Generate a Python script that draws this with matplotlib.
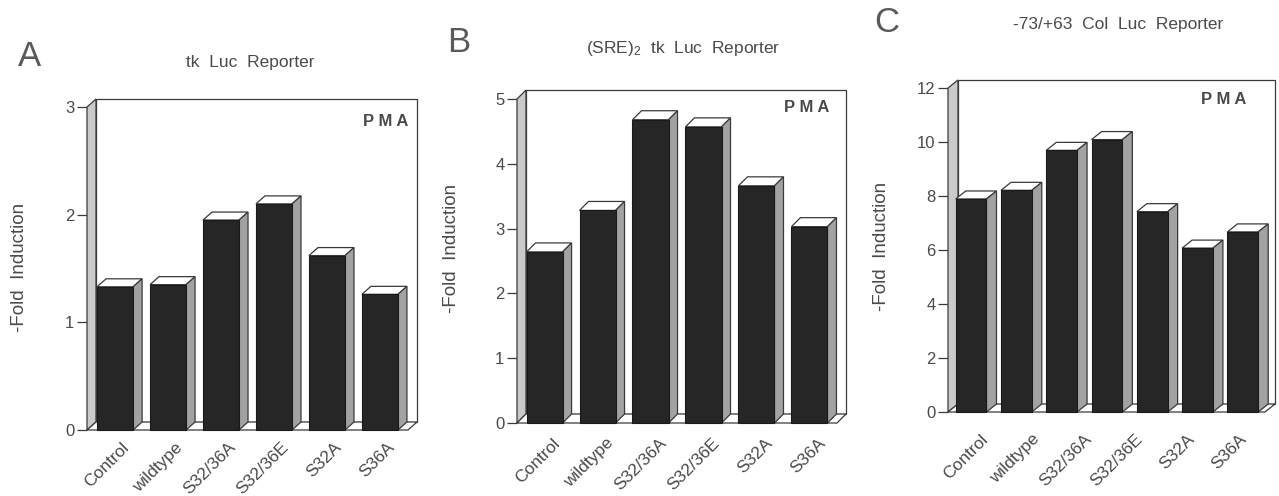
import numpy as np
import matplotlib.pyplot as plt
from matplotlib.patches import Polygon

plt.rcParams['font.family'] = ['Liberation Sans', 'DejaVu Sans']
plt.rcParams['mathtext.default'] = 'regular'

labels = ['Control', 'wildtype', 'S32/36A', 'S32/36E', 'S32A', 'S36A']

# fold induction
fold_tk = [1.33, 1.35, 1.95, 2.10, 1.62, 1.26]
fold_sre = [2.64, 3.28, 4.68, 4.57, 3.66, 3.03]
fold_col = [7.89, 8.21, 9.69, 10.09, 7.42, 6.07, 6.67]   # 7 bars, 6 labels in the original

TXT = '#4a4a4a'
EDGE = '#3a3a3a'
W, H = 1279, 496

fig = plt.figure(figsize=(W / 100, H / 100), dpi=100)


def panel(left, right, y0, ytop, vals, ymax, yticks, xlim, tick_pos, pad, dpx, dpy):
    ax = fig.add_axes([left / W, (H - y0) / H, (right - left) / W, (y0 - ytop) / H])
    ax.set_xlim(*xlim)
    ax.set_ylim(0, ymax)
    ax.patch.set_visible(False)
    for s in ax.spines.values():
        s.set_visible(False)
    # depth offset in data units
    dx = dpx * (xlim[1] - xlim[0]) / (right - left)
    dy = dpy * ymax / (y0 - ytop)
    x0, x1 = xlim
    kw = dict(clip_on=False, lw=0.9, edgecolor=EDGE)
    ax.add_patch(Polygon([(x0 + dx, dy), (x1 + dx, dy), (x1 + dx, ymax + dy), (x0 + dx, ymax + dy)],
                         facecolor='white', zorder=1, **kw))
    ax.add_patch(Polygon([(x0, 0), (x0 + dx, dy), (x0 + dx, ymax + dy), (x0, ymax)],
                         facecolor='#cacaca', zorder=2, **kw))
    ax.add_patch(Polygon([(x0, 0), (x1, 0), (x1 + dx, dy), (x0 + dx, dy)],
                         facecolor='white', zorder=2, **kw))
    x = np.arange(len(vals))
    w = 0.68
    bars = ax.bar(x, vals, width=w, color='#262626', edgecolor='#1a1a1a', lw=0.8, zorder=4, clip_on=False)
    for b, v in zip(bars, vals):
        xl = b.get_x()
        xr = xl + w
        ax.add_patch(Polygon([(xl, v), (xr, v), (xr + dx, v + dy), (xl + dx, v + dy)],
                             facecolor='white', zorder=3, **kw))
        ax.add_patch(Polygon([(xr, 0), (xr + dx, dy), (xr + dx, v + dy), (xr, v)],
                             facecolor='#a2a2a2', zorder=3, **kw))
    ax.set_yticks(yticks)
    ax.tick_params(axis='y', length=7, width=0.9, color=EDGE, labelcolor=TXT, labelsize=12, pad=2)
    ax.set_xticks(tick_pos, labels, rotation=45, ha='right', rotation_mode='anchor')
    ax.tick_params(axis='x', length=0, labelcolor=TXT, labelsize=12.5, pad=pad)
    return ax


panel(87, 408, 430, 107, fold_tk, 3, [0, 1, 2, 3], (-0.53, 5.53),
      np.arange(6) + 0.12, 7, 9, 8)
panel(517, 837, 423, 99, fold_sre, 5, [0, 1, 2, 3, 4, 5], (-0.52, 5.52),
      np.arange(6) + 0.15, 9, 9, 9)
panel(948, 1265, 412, 88, fold_col, 12, [0, 2, 4, 6, 8, 10, 12], (-0.51, 6.49),
      np.linspace(0.2, 5.9, 6), 14, 10, 8)


def ftext(px, py, s, color=TXT, **kw):
    fig.text(px / W, 1 - py / H, s, ha='center', va='center', color=color, **kw)


ftext(30, 57, 'A', fontsize=25, color='#5a5a5a')
ftext(459, 42, 'B', fontsize=25, color='#5a5a5a')
ftext(887, 23, 'C', fontsize=25, color='#5a5a5a')
ftext(250, 63, 'tk  Luc  Reporter', fontsize=12.5)
ftext(683, 48, '(SRE)$_2$  tk  Luc  Reporter', fontsize=12.5)
ftext(1118, 25, '-73/+63  Col  Luc  Reporter', fontsize=12.5)
for px, py in [(386, 122), (807, 108), (1224, 100)]:
    ftext(px, py, 'P M A', fontsize=12, fontweight='bold')
for px, py in [(20, 267), (452, 248), (882, 246)]:
    ftext(px, py, '-Fold  Induction', fontsize=13.5, rotation=90)

fig.savefig('out.png', dpi=100)
